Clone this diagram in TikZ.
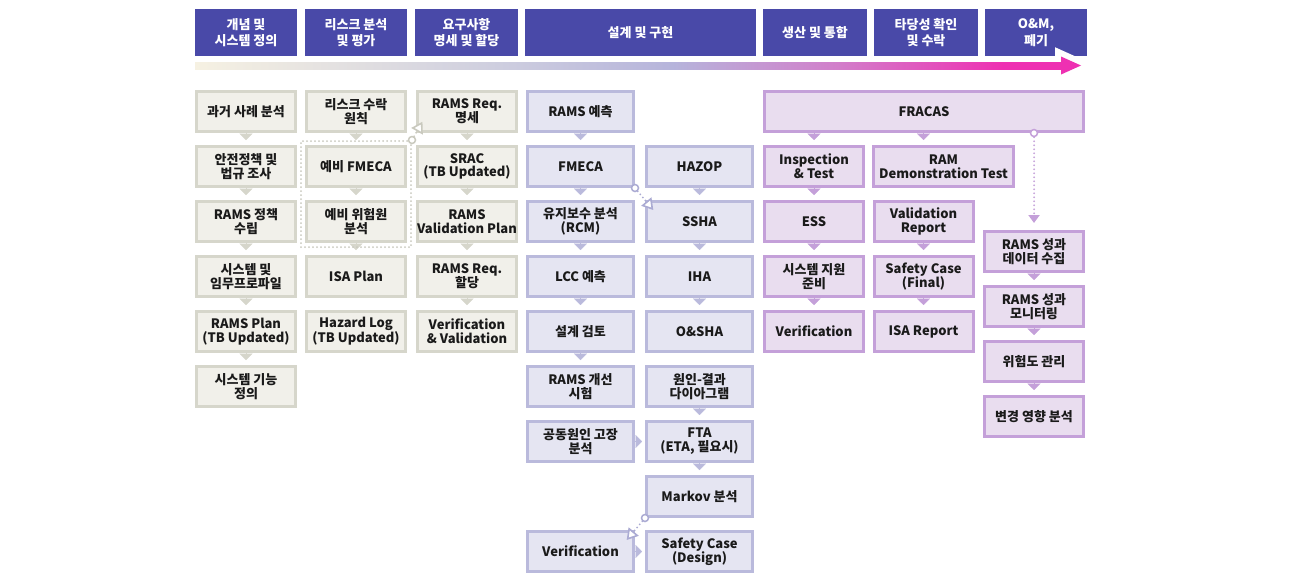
\documentclass[tikz,border=0pt]{standalone}
\usepackage{fontspec}
\setmainfont{Noto Sans CJK KR}
\usepackage{tikz}
\usepackage{xcolor}
\usetikzlibrary{arrows.meta,fit}

\definecolor{hdr}{HTML}{4949A8}
\definecolor{txt}{HTML}{1A1A1A}
\definecolor{fillA}{HTML}{F1F0EA}
\definecolor{lineA}{HTML}{D6D6CB}
\definecolor{dotA}{HTML}{C9C9BE}
\definecolor{fillB}{HTML}{E5E5F2}
\definecolor{lineB}{HTML}{BABADC}
\definecolor{dotB}{HTML}{ABABD3}
\definecolor{fillC}{HTML}{E9DDEF}
\definecolor{lineC}{HTML}{C4A0D9}
\definecolor{g0}{HTML}{F6F1E2}
\definecolor{g1}{HTML}{CECEDF}
\definecolor{g2}{HTML}{B6B4DB}
\definecolor{g3}{HTML}{D27ECA}
\definecolor{g4}{HTML}{EE30B2}
\pgfdeclarehorizontalshading{flecha}{100bp}{color(0bp)=(g0); color(25bp)=(g0); color(42.5bp)=(g1); color(52.5bp)=(g2); color(62bp)=(g3); color(71.5bp)=(g4); color(100bp)=(g4)}

\begin{document}
\begin{tikzpicture}[x=1pt, y=-1pt,
    encabezado/.style={fill=hdr, text=white, align=center, inner sep=0pt, minimum height=47pt, font=\bfseries\fontsize{13}{16.5}\selectfont},
    caja/.style={line width=3pt, align=center, inner sep=0pt, minimum height=40pt, text=txt, font=\bfseries\fontsize{13}{13.8}\selectfont},
    cajaA/.style={caja, draw=lineA, fill=fillA, minimum width=99pt},
    cajaB/.style={caja, draw=lineB, fill=fillB, minimum width=106pt},
    cajaC/.style={caja, draw=lineC, fill=fillC, minimum width=99pt},
    puntaA/.style={lineA, line width=0.2pt, shorten >=5pt, -{Triangle[width=13pt,length=6.5pt]}},
    puntaB/.style={lineB, line width=0.2pt, shorten >=5pt, -{Triangle[width=13pt,length=6.5pt]}},
    puntaC/.style={lineC, line width=0.2pt, shorten >=5pt, -{Triangle[width=13pt,length=6.5pt]}},
    ladoB/.style={lineB, line width=0.2pt, shorten >=3pt, -{Triangle[width=13pt,length=6.5pt]}},
    punteado/.style={line width=2pt, dash pattern=on 0pt off 4pt, line cap=round},
    blanca/.style={-{Triangle[fill=white, line width=1.6pt, width=13pt, length=11pt]}},
    aro/.style={circle, fill=white, line width=1.5pt, inner sep=0pt, minimum size=7pt}
  ]
	\useasboundingbox (0,0) rectangle (1300,582);

	%Encabezados de las fases
	\node[encabezado, minimum width=102pt] (h1) at (246,32.5) {개념 및\\시스템 정의};
	\node[encabezado, minimum width=102pt] (h2) at (356,32.5) {리스크 분석\\및 평가};
	\node[encabezado, minimum width=103pt] (h3) at (466.5,32.5) {요구사항\\명세 및 할당};
	\node[encabezado, minimum width=231pt] (h4) at (640.5,32.5) {설계 및 구현};
	\node[encabezado, minimum width=104pt] (h5) at (815,32.5) {생산 및 통합};
	\node[encabezado, minimum width=104pt] (h6) at (926,32.5) {타당성 확인\\및 수락};
	\node[encabezado, minimum width=102pt] (h7) at (1036,32.5) {O\&M,\\폐기};

	%Flecha del ciclo de vida
	\draw[white, line width=12pt, line join=miter] (1061,56.5) -- (1081,65.5) -- (1061,74.5) -- cycle;
	\shade[shading=flecha] (195,62) rectangle (1063,69);
	\fill[g4] (1061,56.5) -- (1081,65.5) -- (1061,74.5) -- cycle;

	%Columna 1
	\node[cajaA] (a1) at (246,111.5) {과거 사례 분석};
	\node[cajaA] (a2) at (246,166.5) {안전정책 및\\법규 조사};
	\node[cajaA] (a3) at (246,221.5) {RAMS 정책\\수립};
	\node[cajaA] (a4) at (246,276.5) {시스템 및\\임무프로파일};
	\node[cajaA] (a5) at (246,331.5) {RAMS Plan\\(TB Updated)};
	\node[cajaA] (a6) at (246,386.5) {시스템 기능\\정의};

	%Columna 2
	\node[cajaA] (b1) at (356,111.5) {리스크 수락\\원칙};
	\node[cajaA] (b2) at (356,166.5) {예비 FMECA};
	\node[cajaA] (b3) at (356,221.5) {예비 위험원\\분석};
	\node[cajaA] (b4) at (356,276.5) {ISA Plan};
	\node[cajaA] (b5) at (356,331.5) {Hazard Log\\(TB Updated)};

	%Columna 3
	\node[cajaA] (c1) at (467,111.5) {RAMS Req.\\명세};
	\node[cajaA] (c2) at (467,166.5) {SRAC\\(TB Updated)};
	\node[cajaA] (c3) at (467,221.5) {RAMS\\Validation Plan};
	\node[cajaA] (c4) at (467,276.5) {RAMS Req.\\할당};
	\node[cajaA] (c5) at (467,331.5) {Verification\\\& Validation};

	%Columna 4
	\node[cajaB] (d1) at (580.5,111.5) {RAMS 예측};
	\node[cajaB] (d2) at (580.5,166.5) {FMECA};
	\node[cajaB] (d3) at (580.5,221.5) {유지보수 분석\\(RCM)};
	\node[cajaB] (d4) at (580.5,276.5) {LCC 예측};
	\node[cajaB] (d5) at (580.5,331.5) {설계 검토};
	\node[cajaB] (d6) at (580.5,386.5) {RAMS 개선\\시험};
	\node[cajaB] (d7) at (580.5,441.5) {공동원인 고장\\분석};
	\node[cajaB] (d9) at (580.5,551.5) {Verification};

	%Columna 5
	\node[cajaB] (e2) at (699.5,166.5) {HAZOP};
	\node[cajaB] (e3) at (699.5,221.5) {SSHA};
	\node[cajaB] (e4) at (699.5,276.5) {IHA};
	\node[cajaB] (e5) at (699.5,331.5) {O\&SHA};
	\node[cajaB] (e6) at (699.5,386.5) {원인-결과\\다이아그램};
	\node[cajaB] (e7) at (699.5,441.5) {FTA\\(ETA, 필요시)};
	\node[cajaB] (e8) at (699.5,496.5) {Markov 분석};
	\node[cajaB] (e9) at (699.5,551.5) {Safety Case\\(Design)};

	%Columnas 6, 7 y 8
	\node[cajaC, minimum width=319pt] (f0) at (924,111.5) {FRACAS};
	\node[cajaC] (f1) at (814,166.5) {Inspection\\\& Test};
	\node[cajaC] (f2) at (814,221.5) {ESS};
	\node[cajaC] (f3) at (814,276.5) {시스템 지원\\준비};
	\node[cajaC] (f4) at (814,331.5) {Verification};
	\node[cajaC, minimum width=140pt] (g1) at (943.5,166.5) {RAM\\Demonstration Test};
	\node[cajaC] (g2) at (923.5,221.5) {Validation\\Report};
	\node[cajaC] (g3) at (923.5,276.5) {Safety Case\\(Final)};
	\node[cajaC] (g4) at (923.5,331.5) {ISA Report};
	\node[cajaC] (k1) at (1034,251.5) {RAMS 성과\\데이터 수집};
	\node[cajaC] (k2) at (1034,306.5) {RAMS 성과\\모니터링};
	\node[cajaC] (k3) at (1034,361.5) {위험도 관리};
	\node[cajaC] (k4) at (1034,416.5) {변경 영향 분석};

	%Flechas entre cajas
	\draw[puntaA] (a1) -- (a2);
	\draw[puntaA] (a2) -- (a3);
	\draw[puntaA] (a3) -- (a4);
	\draw[puntaA] (a4) -- (a5);
	\draw[puntaA] (a5) -- (a6);
	\draw[puntaA] (b1) -- (b2);
	\draw[puntaA] (b2) -- (b3);
	\draw[puntaA] (b3) -- (b4);
	\draw[puntaA] (c1) -- (c2);
	\draw[puntaA] (c2) -- (c3);
	\draw[puntaA] (c3) -- (c4);
	\draw[puntaA] (c4) -- (c5);
	\draw[puntaB] (d1) -- (d2);
	\draw[puntaB] (d2) -- (d3);
	\draw[puntaB] (d3) -- (d4);
	\draw[puntaB] (d4) -- (d5);
	\draw[puntaB] (d5) -- (d6);
	\draw[puntaB] (e2) -- (e3);
	\draw[puntaB] (e3) -- (e4);
	\draw[puntaB] (e4) -- (e5);
	\draw[puntaB] (e6) -- (e7);
	\draw[puntaB] (e7) -- (e8);
	\draw[ladoB] (d7) -- (e7);
	\draw[ladoB] (d9) -- (e9);
	\draw[puntaC] (f0.south -| f1) -- (f1);
	\draw[puntaC] (f0.south -| g2) -- (g1.north -| g2);
	\draw[puntaC] (f1) -- (f2);
	\draw[puntaC] (f2) -- (f3);
	\draw[puntaC] (f3) -- (f4);
	\draw[puntaC] (g2) -- (g3);
	\draw[puntaC] (g3) -- (g4);
	\draw[puntaC] (k1) -- (k2);
	\draw[puntaC] (k2) -- (k3);
	\draw[puntaC] (k3) -- (k4);

	%Conexiones punteadas
	\node[fit=(b2)(b3), draw=dotA, punteado, inner sep=4pt] (grp) {};
	\node[aro, draw=dotA] (o1) at (grp.north east) {};
	\draw[punteado, dotA, blanca, shorten >=-13pt] (o1) -- (c1.south west);
	\node[aro, draw=dotB] (o2) at (d2.south east) {};
	\draw[punteado, dotB, blanca, shorten >=-13pt] (o2) -- (e3.north west);
	\node[aro, draw=dotB] (o4) at (e8.south west) {};
	\draw[punteado, dotB, blanca, shorten >=-13pt] (o4) -- (d9.north east);
	\node[aro, draw=lineC] (o3) at (f0.south -| k1) {};
	\draw[punteado, lineC, shorten >=7pt, -{Triangle[width=11pt, length=8pt]}] (o3) -- (k1);
\end{tikzpicture}
\end{document}
